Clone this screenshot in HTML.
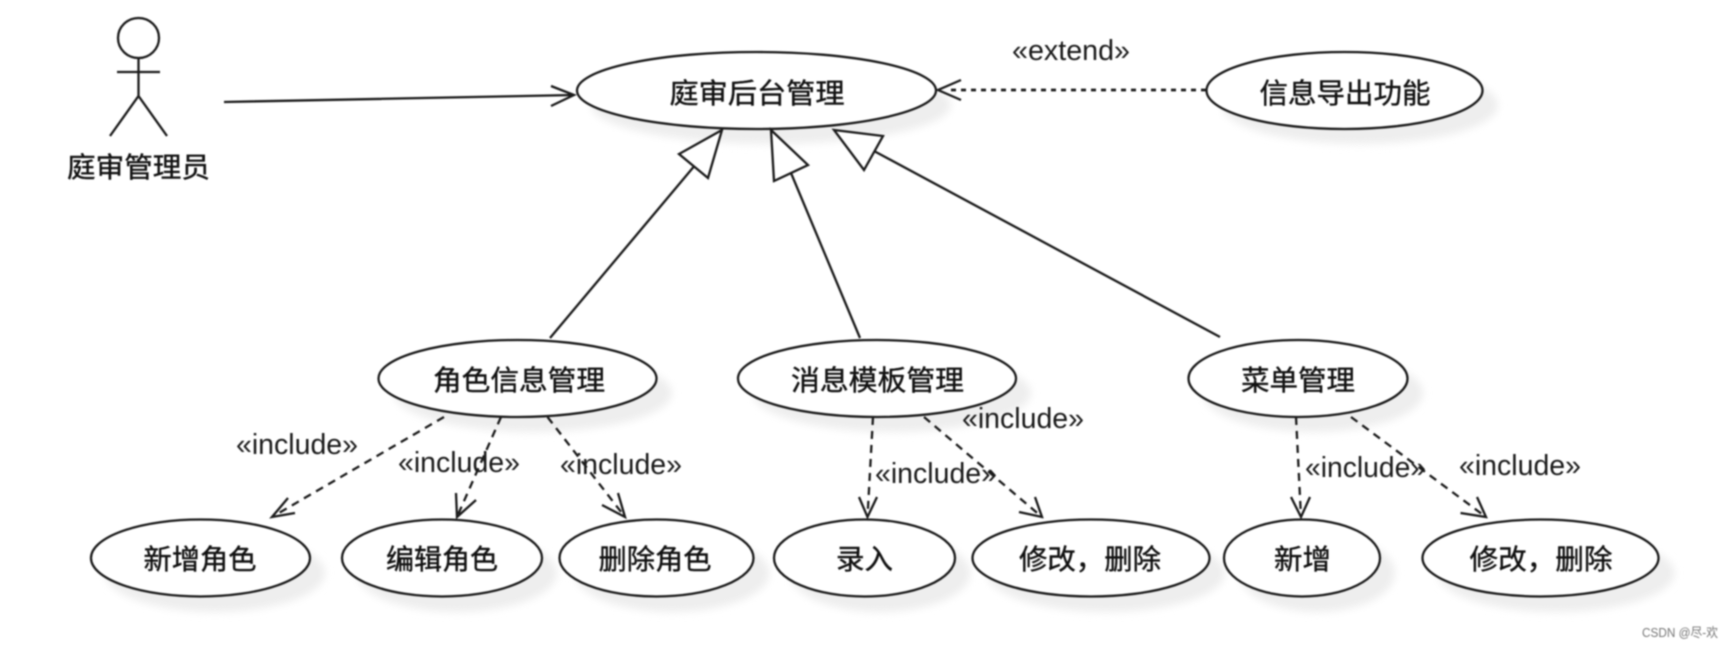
<!DOCTYPE html>
<html><head><meta charset="utf-8"><style>
html,body{margin:0;padding:0;background:#fff;width:1734px;height:647px;overflow:hidden}
svg{display:block;filter:blur(.8px)}
text{font-family:"Liberation Sans","Noto Sans CJK SC",sans-serif;fill:#111;text-anchor:middle}
.c{font-size:28px;stroke:#111;stroke-width:.4px}
.l{font-size:29px;fill:#1a1a1a}
.e{fill:#fff;stroke:#1a1a1a;stroke-width:2.3}
.s{fill:#eeeeee}
.n{fill:none;stroke:#1a1a1a;stroke-width:2.3}
.d{fill:none;stroke:#1a1a1a;stroke-width:2.3;stroke-dasharray:8 6}
.t{fill:#fff;stroke:#1a1a1a;stroke-width:2.3}
</style></head><body>
<svg width="1734" height="647" viewBox="0 0 1734 647" xmlns="http://www.w3.org/2000/svg">
<defs><filter id="b" x="-20%" y="-20%" width="140%" height="140%"><feGaussianBlur stdDeviation="4"/></filter></defs>
<g class="s" filter="url(#b)">
<ellipse cx="771" cy="105" rx="180" ry="39"/>
<ellipse cx="1360" cy="105" rx="138" ry="39"/>
<ellipse cx="533" cy="393" rx="139" ry="39"/>
<ellipse cx="892" cy="393" rx="139" ry="39"/>
<ellipse cx="1313" cy="393" rx="110" ry="39"/>
<ellipse cx="215" cy="573" rx="110" ry="39"/>
<ellipse cx="457" cy="573" rx="100" ry="39"/>
<ellipse cx="672" cy="573" rx="97.5" ry="39"/>
<ellipse cx="880" cy="573" rx="90.5" ry="39"/>
<ellipse cx="1106" cy="573" rx="119" ry="39"/>
<ellipse cx="1317" cy="573" rx="78" ry="39"/>
<ellipse cx="1556" cy="573" rx="118.5" ry="39"/>
</g>
<ellipse class="e" cx="138.5" cy="38" rx="20.5" ry="20"/>
<path class="n" d="M138.5 58V96M117 72H160M110 136L138.5 96L167 136"/>
<text class="c" x="138.5" y="177" textLength="143" lengthAdjust="spacingAndGlyphs">庭审管理员</text>
<path class="n" d="M224 102L574 95M551 86L574 95L551 106"/>
<ellipse class="e" cx="756.5" cy="90.5" rx="179.5" ry="38.5"/>
<text class="c" x="757" y="103" textLength="175" lengthAdjust="spacingAndGlyphs">庭审后台管理</text>
<ellipse class="e" cx="1344.5" cy="90.5" rx="138" ry="38.5"/>
<text class="c" x="1345" y="103" textLength="171" lengthAdjust="spacingAndGlyphs">信息导出功能</text>
<path class="d" d="M1206 90H948" style="stroke-dasharray:5 5;stroke-width:2.8"/>
<path class="n" d="M961 80L938 90L961 100"/>
<text class="l" x="1071" y="60" textLength="118" lengthAdjust="spacingAndGlyphs">«extend»</text>
<path class="n" d="M550 338L693.5 167M860 338L791 173M1220 337L874 151"/>
<polygon class="t" points="722,130 679,154 708,178"/>
<polygon class="t" points="771,130 808,165 774,181"/>
<polygon class="t" points="834,130 883,136 864,170"/>
<ellipse class="e" cx="517.5" cy="378.5" rx="139" ry="38.5"/>
<ellipse class="e" cx="877" cy="378.5" rx="139" ry="38.5"/>
<ellipse class="e" cx="1298" cy="378.5" rx="109.5" ry="38.5"/>
<text class="c" x="519" y="390" textLength="172" lengthAdjust="spacingAndGlyphs">角色信息管理</text>
<text class="c" x="877.5" y="390" textLength="173" lengthAdjust="spacingAndGlyphs">消息模板管理</text>
<text class="c" x="1298" y="390" textLength="114" lengthAdjust="spacingAndGlyphs">菜单管理</text>
<ellipse class="e" cx="200.5" cy="558" rx="109.5" ry="38.5"/>
<ellipse class="e" cx="442" cy="558" rx="100" ry="38.5"/>
<ellipse class="e" cx="656.5" cy="558" rx="97" ry="38.5"/>
<ellipse class="e" cx="864.5" cy="558" rx="90.5" ry="38.5"/>
<ellipse class="e" cx="1091" cy="558" rx="118.5" ry="38.5"/>
<ellipse class="e" cx="1302" cy="558" rx="78" ry="38.5"/>
<ellipse class="e" cx="1540.5" cy="558" rx="118" ry="38.5"/>
<text class="c" x="200" y="569" textLength="113" lengthAdjust="spacingAndGlyphs">新增角色</text>
<text class="c" x="442" y="569" textLength="112" lengthAdjust="spacingAndGlyphs">编辑角色</text>
<text class="c" x="655" y="569" textLength="113" lengthAdjust="spacingAndGlyphs">删除角色</text>
<text class="c" x="864.5" y="569" textLength="57" lengthAdjust="spacingAndGlyphs">录入</text>
<text class="c" x="1090" y="569" textLength="142" lengthAdjust="spacingAndGlyphs">修改，删除</text>
<text class="c" x="1302.5" y="569" textLength="57" lengthAdjust="spacingAndGlyphs">新增</text>
<text class="c" x="1541" y="569" textLength="143" lengthAdjust="spacingAndGlyphs">修改，删除</text>
<path class="d" d="M444 417L272 517M501 417L457 517M547.5 417L625 517M873 417L867.5 517M924 417L1042 517M1296 417L1301 517M1351 417L1486 517"/>
<path class="n" d="M288 498L272 517L295 513M456 493L457 517L476 500M618 493L625 517L602 505M859 497L867.5 517L877 497M1035 497L1042 517L1019 512M1291 497L1301 517L1310 497M1477 497L1486 517L1460.5 513"/>
<text class="l" x="297" y="454" textLength="122" lengthAdjust="spacingAndGlyphs">«include»</text>
<text class="l" x="459" y="472" textLength="122" lengthAdjust="spacingAndGlyphs">«include»</text>
<text class="l" x="621" y="474" textLength="122" lengthAdjust="spacingAndGlyphs">«include»</text>
<text class="l" x="1023" y="428" textLength="122" lengthAdjust="spacingAndGlyphs">«include»</text>
<text class="l" x="936" y="483" textLength="122" lengthAdjust="spacingAndGlyphs">«include»</text>
<text class="l" x="1365.5" y="477" textLength="121" lengthAdjust="spacingAndGlyphs">«include»</text>
<text class="l" x="1520" y="475" textLength="122" lengthAdjust="spacingAndGlyphs">«include»</text>
<text x="1680" y="637" style="font-size:13px;fill:#777" textLength="76" lengthAdjust="spacingAndGlyphs">CSDN @尽-欢</text>
</svg>
</body></html>
